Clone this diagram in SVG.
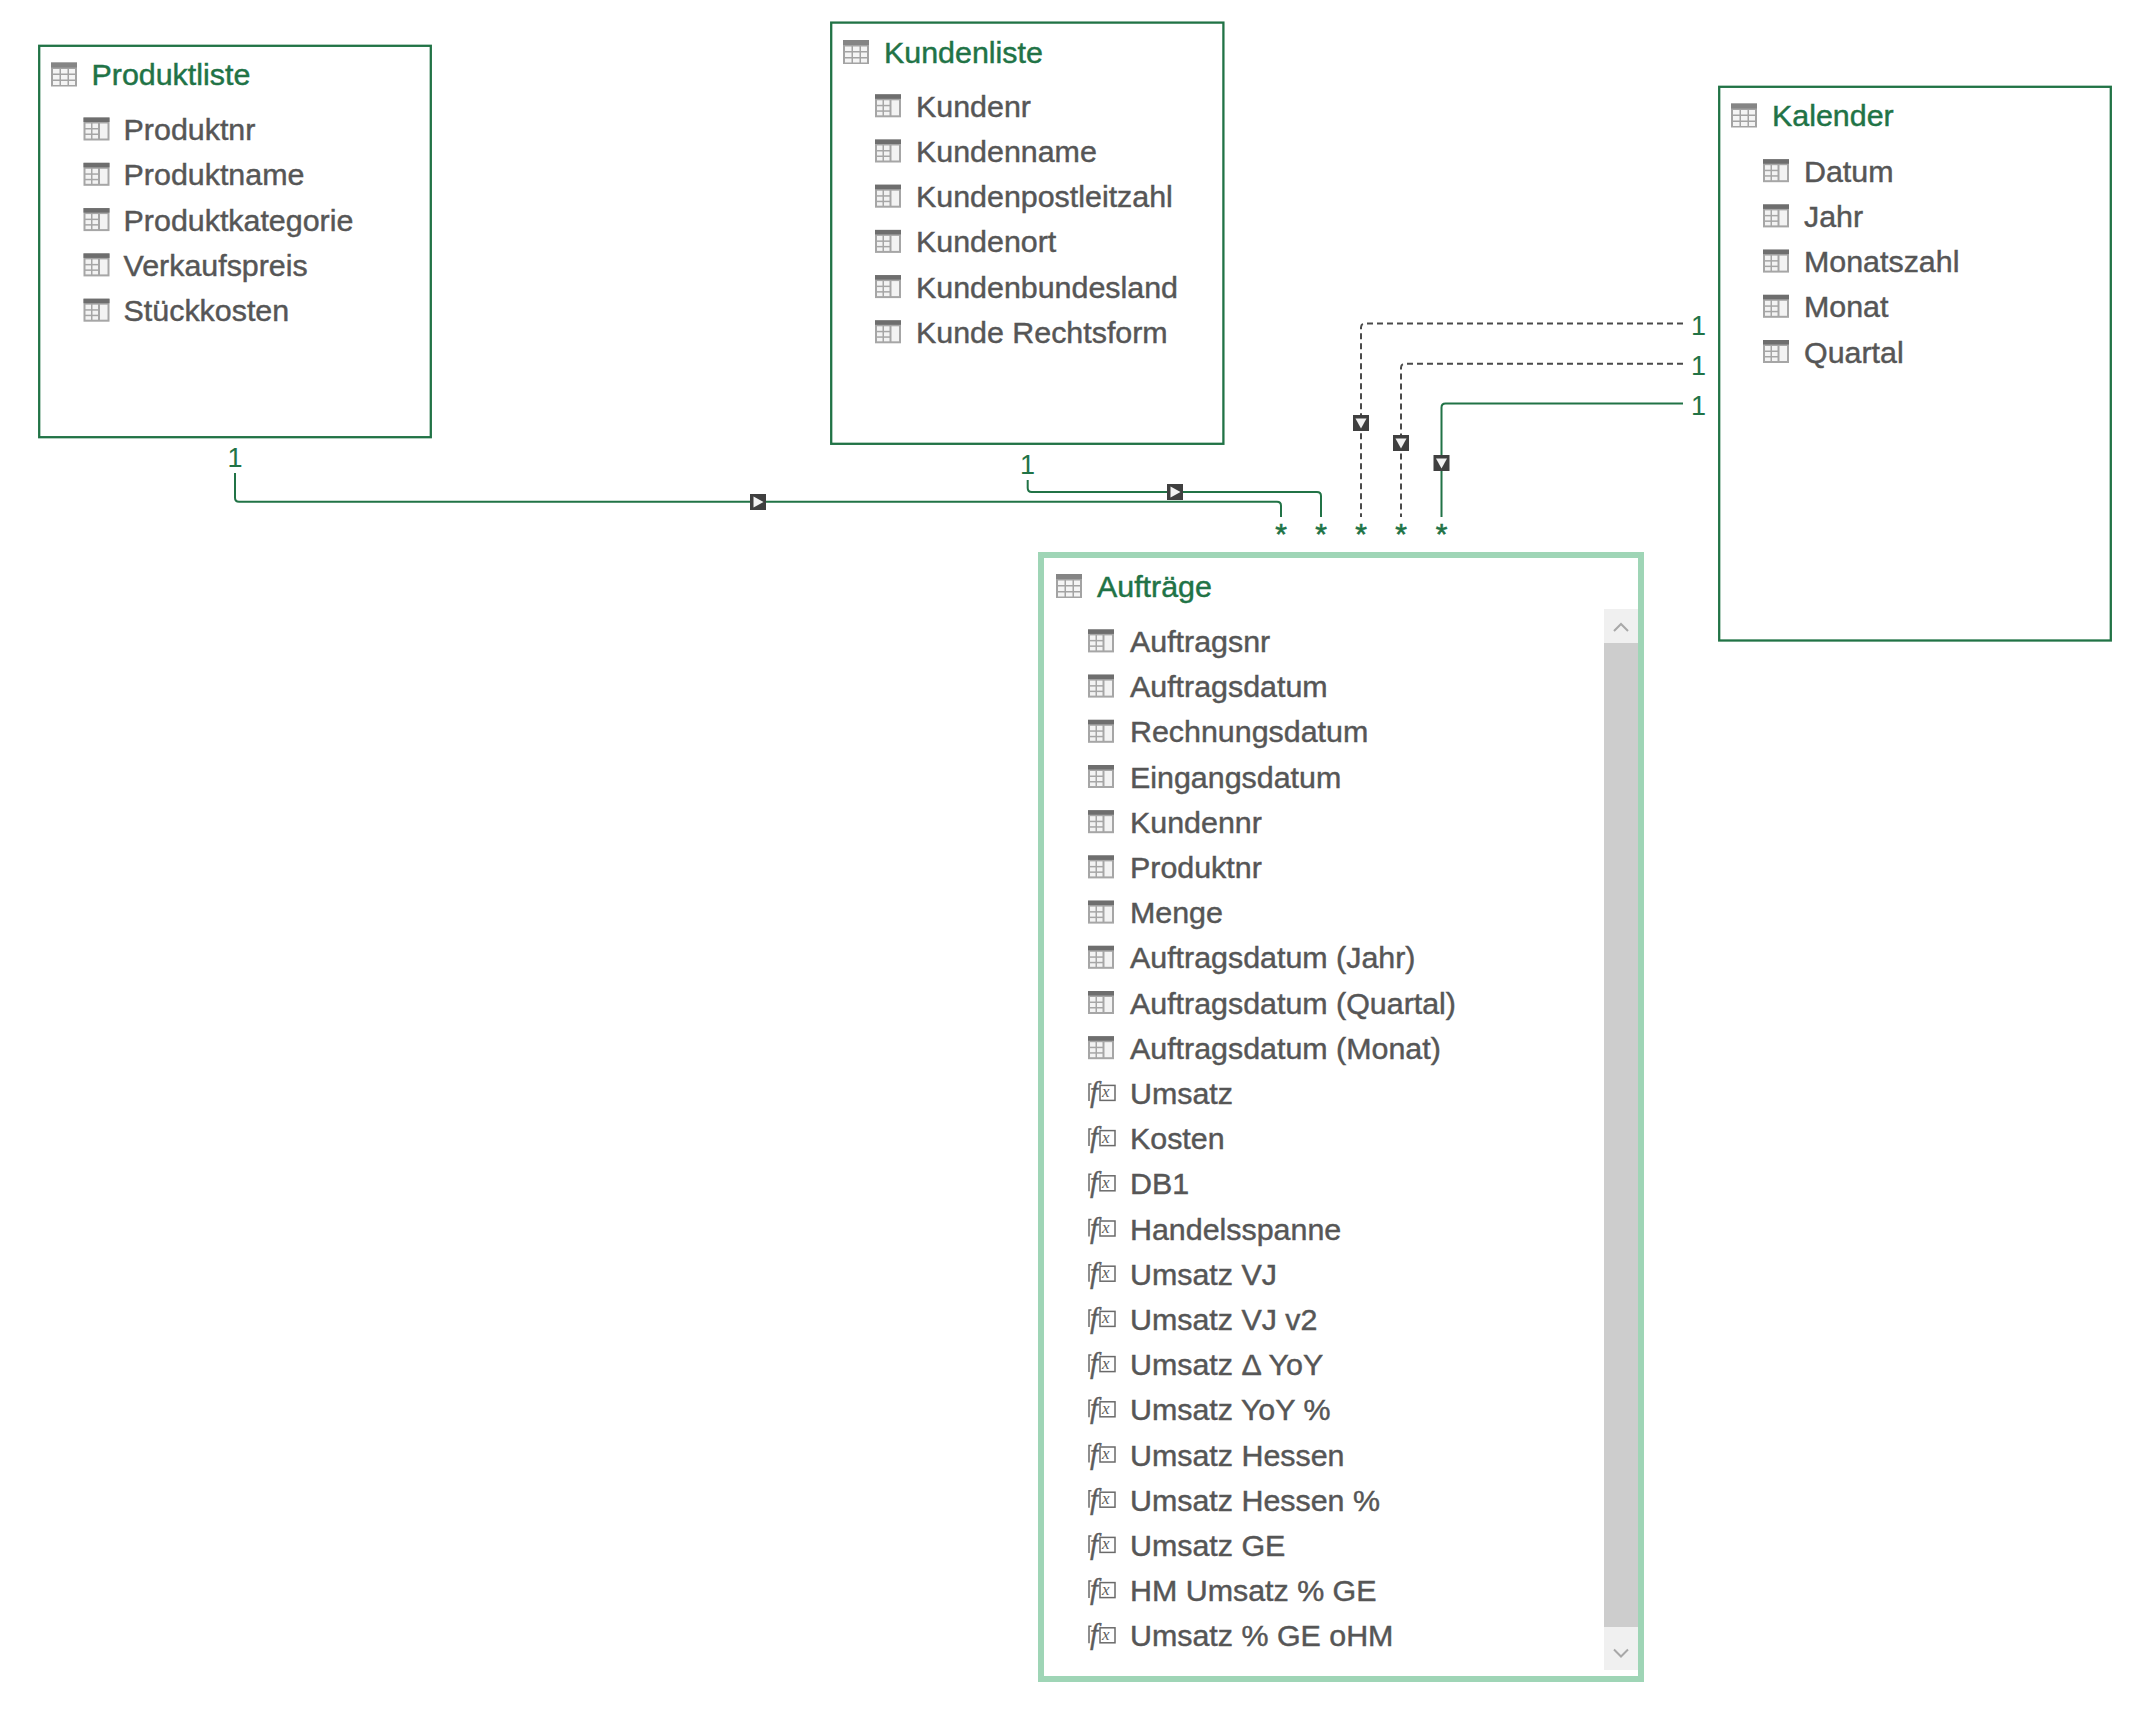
<svg xmlns="http://www.w3.org/2000/svg" xmlns:xlink="http://www.w3.org/1999/xlink" width="2156" height="1730" viewBox="0 0 2156 1730">
<style>
.box{fill:#ffffff;stroke:#217346;stroke-width:2.3}
.fbox{fill:#ffffff;stroke:#9fd5b6;stroke-width:6}
.title{font-family:"Liberation Sans",Arial,sans-serif;font-size:30.4px;fill:#217346;stroke:#217346;stroke-width:0.45}
.item{font-family:"Liberation Sans",Arial,sans-serif;font-size:30.4px;fill:#565656;stroke:#565656;stroke-width:0.45}
.card{font-family:"Liberation Sans",Arial,sans-serif;font-size:27px;fill:#217346;text-anchor:middle}
.star{font-family:"Liberation Sans",Arial,sans-serif;font-size:30px;fill:#217346;stroke:#217346;stroke-width:0.6;text-anchor:middle}
.solid{fill:none;stroke:#217346;stroke-width:2}
.dash{fill:none;stroke:#4a4a4a;stroke-width:2;stroke-dasharray:6 4}
.fxt{font-family:"Liberation Serif","Times New Roman",serif;font-style:italic;fill:#5c5c5c}
.chev{fill:none;stroke:#a8a8a8;stroke-width:2}
</style>
<defs>
<g id="tblT">
<rect width="26" height="24" fill="#a3a3a3"/>
<rect width="26" height="5" fill="#858585"/>
<rect x="2" y="6.5" width="6.5" height="4.5" fill="#f4f4f4"/>
<rect x="10" y="6.5" width="6.5" height="4.5" fill="#f4f4f4"/>
<rect x="18" y="6.5" width="6" height="4.5" fill="#f4f4f4"/>
<rect x="2" y="12.5" width="6.5" height="4.5" fill="#f4f4f4"/>
<rect x="10" y="12.5" width="6.5" height="4.5" fill="#f4f4f4"/>
<rect x="18" y="12.5" width="6" height="4.5" fill="#f4f4f4"/>
<rect x="2" y="18.5" width="6.5" height="4" fill="#f4f4f4"/>
<rect x="10" y="18.5" width="6.5" height="4" fill="#f4f4f4"/>
<rect x="18" y="18.5" width="6" height="4" fill="#f4f4f4"/>
</g>
<g id="tblI">
<rect width="26" height="23" fill="#a6a6a6"/>
<rect width="26" height="4.5" fill="#6e6e6e"/>
<rect x="2" y="6" width="5.5" height="4.5" fill="#f3f3f3"/>
<rect x="9" y="6" width="5.5" height="4.5" fill="#f3f3f3"/>
<rect x="2" y="12" width="5.5" height="4" fill="#f3f3f3"/>
<rect x="9" y="12" width="5.5" height="4" fill="#f3f3f3"/>
<rect x="2" y="17.5" width="5.5" height="3.5" fill="#f3f3f3"/>
<rect x="9" y="17.5" width="5.5" height="3.5" fill="#f3f3f3"/>
<rect x="16.5" y="6" width="7.5" height="15" fill="#f3f3f3"/>
</g>
<g id="fx">
<path d="M3.5,-20 H1 V-3" fill="none" stroke="#6a6a6a" stroke-width="1.5"/>
<rect x="12" y="-18.5" width="15" height="15" fill="#ffffff" stroke="#6a6a6a" stroke-width="1.5"/>
<text class="fxt" x="2" y="-2" font-size="29" stroke="#5c5c5c" stroke-width="0.4">f</text>
<text class="fxt" x="14" y="-6.5" font-size="17">x</text>
</g>
<g id="mkR"><rect width="16" height="16" fill="#3f3f3f"/><polygon points="3.5,2.5 3.5,13.5 13.5,8" fill="#f2f2f2"/></g>
<g id="mkD"><rect width="16" height="16" fill="#3f3f3f"/><polygon points="2.5,3.5 13.5,3.5 8,13.5" fill="#f2f2f2"/></g>
</defs>
<rect width="2156" height="1730" fill="#ffffff"/>

<g id="connectors">
<path class="solid" d="M235,473 V497.7 Q235,501.7 239,501.7 H1277 Q1281,501.7 1281,505.7 V517"/>
<path class="solid" d="M1027.7,480 V488 Q1027.7,492 1031.7,492 H1317 Q1321,492 1321,496 V517"/>
<path class="dash" d="M1683,323.5 H1365 Q1361,323.5 1361,327.5 V517"/>
<path class="dash" d="M1683,363.8 H1405 Q1401,363.8 1401,367.8 V517"/>
<path class="solid" d="M1683,403.6 H1445.5 Q1441.5,403.6 1441.5,407.6 V517"/>
<use href="#mkR" x="750" y="494"/>
<use href="#mkR" x="1167" y="484"/>
<use href="#mkD" x="1353" y="415"/>
<use href="#mkD" x="1393" y="435"/>
<use href="#mkD" x="1433.5" y="455"/>
<text class="card" x="235" y="467">1</text>
<text class="card" x="1027.5" y="474">1</text>
<text class="card" x="1698.5" y="334.8">1</text>
<text class="card" x="1698.5" y="374.6">1</text>
<text class="card" x="1698.5" y="414.8">1</text>
<text class="star" x="1281" y="543.5">*</text>
<text class="star" x="1321" y="543.5">*</text>
<text class="star" x="1361" y="543.5">*</text>
<text class="star" x="1401" y="543.5">*</text>
<text class="star" x="1441.5" y="543.5">*</text>
</g>

<g id="node-produktliste">
<rect class="box" x="39.2" y="45.8" width="391.6" height="391.4"/>
<use href="#tblT" x="51" y="62.5"/>
<text class="title" x="91.5" y="85">Produktliste</text>
<use href="#tblI" x="83.5" y="117.5"/><text class="item" x="123.6" y="140">Produktnr</text>
<use href="#tblI" x="83.5" y="162.8"/><text class="item" x="123.6" y="185.3">Produktname</text>
<use href="#tblI" x="83.5" y="208.1"/><text class="item" x="123.6" y="230.6">Produktkategorie</text>
<use href="#tblI" x="83.5" y="253.4"/><text class="item" x="123.6" y="275.9">Verkaufspreis</text>
<use href="#tblI" x="83.5" y="298.7"/><text class="item" x="123.6" y="321.2">Stückkosten</text>
</g>

<g id="node-kundenliste">
<rect class="box" x="831.2" y="22.6" width="392.2" height="421.2"/>
<use href="#tblT" x="843" y="40"/>
<text class="title" x="884" y="62.5">Kundenliste</text>
<use href="#tblI" x="875" y="94.3"/><text class="item" x="916" y="116.8">Kundenr</text>
<use href="#tblI" x="875" y="139.5"/><text class="item" x="916" y="162">Kundenname</text>
<use href="#tblI" x="875" y="184.7"/><text class="item" x="916" y="207.2">Kundenpostleitzahl</text>
<use href="#tblI" x="875" y="229.9"/><text class="item" x="916" y="252.4">Kundenort</text>
<use href="#tblI" x="875" y="275.1"/><text class="item" x="916" y="297.6">Kundenbundesland</text>
<use href="#tblI" x="875" y="320.3"/><text class="item" x="916" y="342.8">Kunde Rechtsform</text>
</g>

<g id="node-kalender">
<rect class="box" x="1719.2" y="86.8" width="391.6" height="553.7"/>
<use href="#tblT" x="1731" y="103.5"/>
<text class="title" x="1772" y="126">Kalender</text>
<use href="#tblI" x="1763" y="159.2"/><text class="item" x="1804" y="181.7">Datum</text>
<use href="#tblI" x="1763" y="204.4"/><text class="item" x="1804" y="226.9">Jahr</text>
<use href="#tblI" x="1763" y="249.6"/><text class="item" x="1804" y="272.1">Monatszahl</text>
<use href="#tblI" x="1763" y="294.8"/><text class="item" x="1804" y="317.3">Monat</text>
<use href="#tblI" x="1763" y="340"/><text class="item" x="1804" y="362.5">Quartal</text>
</g>

<g id="node-auftraege">
<rect class="fbox" x="1041" y="555" width="600" height="1124"/>
<rect x="1604" y="609" width="34" height="34" fill="#f0f0f0"/>
<rect x="1604" y="643" width="34" height="984" fill="#cdcdcd"/>
<rect x="1604" y="1627" width="34" height="43" fill="#f0f0f0"/>
<path class="chev" d="M1614,631 L1621,624 L1628,631"/>
<path class="chev" d="M1614,1649.5 L1621,1656.5 L1628,1649.5"/>
<use href="#tblT" x="1056" y="574"/>
<text class="title" x="1097" y="596.5">Aufträge</text>
<use href="#tblI" x="1088" y="629.4"/><text class="item" x="1130" y="651.9">Auftragsnr</text>
<use href="#tblI" x="1088" y="674.6"/><text class="item" x="1130" y="697.1">Auftragsdatum</text>
<use href="#tblI" x="1088" y="719.8"/><text class="item" x="1130" y="742.3">Rechnungsdatum</text>
<use href="#tblI" x="1088" y="765"/><text class="item" x="1130" y="787.5">Eingangsdatum</text>
<use href="#tblI" x="1088" y="810.2"/><text class="item" x="1130" y="832.7">Kundennr</text>
<use href="#tblI" x="1088" y="855.4"/><text class="item" x="1130" y="877.9">Produktnr</text>
<use href="#tblI" x="1088" y="900.6"/><text class="item" x="1130" y="923.1">Menge</text>
<use href="#tblI" x="1088" y="945.8"/><text class="item" x="1130" y="968.3">Auftragsdatum (Jahr)</text>
<use href="#tblI" x="1088" y="991"/><text class="item" x="1130" y="1013.5">Auftragsdatum (Quartal)</text>
<use href="#tblI" x="1088" y="1036.2"/><text class="item" x="1130" y="1058.7">Auftragsdatum (Monat)</text>
<use href="#fx" x="1088" y="1103.9"/><text class="item" x="1130" y="1103.9">Umsatz</text>
<use href="#fx" x="1088" y="1149.1"/><text class="item" x="1130" y="1149.1">Kosten</text>
<use href="#fx" x="1088" y="1194.3"/><text class="item" x="1130" y="1194.3">DB1</text>
<use href="#fx" x="1088" y="1239.5"/><text class="item" x="1130" y="1239.5">Handelsspanne</text>
<use href="#fx" x="1088" y="1284.7"/><text class="item" x="1130" y="1284.7">Umsatz VJ</text>
<use href="#fx" x="1088" y="1329.9"/><text class="item" x="1130" y="1329.9">Umsatz VJ v2</text>
<use href="#fx" x="1088" y="1375.1"/><text class="item" x="1130" y="1375.1">Umsatz Δ YoY</text>
<use href="#fx" x="1088" y="1420.3"/><text class="item" x="1130" y="1420.3">Umsatz YoY %</text>
<use href="#fx" x="1088" y="1465.5"/><text class="item" x="1130" y="1465.5">Umsatz Hessen</text>
<use href="#fx" x="1088" y="1510.7"/><text class="item" x="1130" y="1510.7">Umsatz Hessen %</text>
<use href="#fx" x="1088" y="1555.9"/><text class="item" x="1130" y="1555.9">Umsatz GE</text>
<use href="#fx" x="1088" y="1601.1"/><text class="item" x="1130" y="1601.1">HM Umsatz % GE</text>
<use href="#fx" x="1088" y="1646.3"/><text class="item" x="1130" y="1646.3">Umsatz % GE oHM</text>
</g>
</svg>
